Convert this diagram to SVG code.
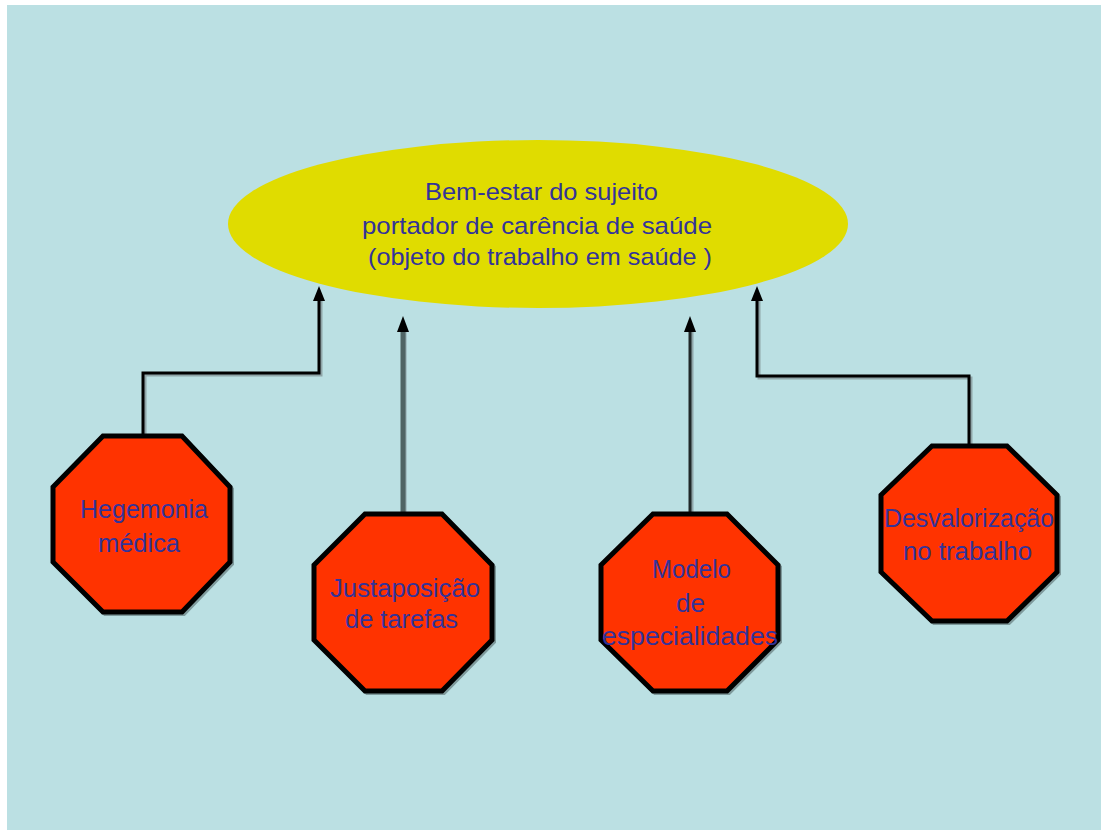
<svg xmlns="http://www.w3.org/2000/svg" width="1101" height="830" viewBox="0 0 1101 830">
<defs>
<style>
.oct{fill:#FF3300;stroke:#000;stroke-width:5;stroke-linejoin:miter}
.octsh{fill:none;stroke:#7F9A9C;stroke-width:4}
.lbl{font-family:"Liberation Sans",Arial,sans-serif;font-size:26px;fill:#333399}
.elbl{font-family:"Liberation Sans",Arial,sans-serif;font-size:24px;fill:#333399}
.conn{fill:none;stroke:#000;stroke-width:3}
.connsh{fill:none;stroke:#8FA5A8;stroke-width:3}
</style>
</defs>
<rect x="0" y="0" width="1101" height="830" fill="#FFFFFF"/>
<rect x="7" y="5" width="1094" height="825" fill="#BBE0E3"/>

<g id="connectors">
<path class="connsh" d="M145,436 V375 H321 V300"/>
<path class="conn" d="M143,436 V373 H319 V295"/>
<path d="M313,301 L319,286 L325,301 Z" fill="#000"/>
<path class="connsh" d="M405,513 V330"/>
<path fill="none" stroke="#4F6464" stroke-width="5" d="M403,513 V325"/>
<path d="M397,332 L403,316 L409,332 Z" fill="#000"/>
<path class="connsh" d="M692,513 V330"/>
<path fill="none" stroke="#202828" stroke-width="3" d="M690,513 V325"/>
<path d="M684,332 L690,316 L696,332 Z" fill="#000"/>
<path class="connsh" d="M971,445 V378 H759 V300"/>
<path class="conn" d="M969,445 V376 H757 V295"/>
<path d="M751,301 L757,286 L763,301 Z" fill="#000"/>
</g>

<g id="ellipse-node">
<ellipse cx="538" cy="224" rx="310" ry="84" fill="#E0DC00"/>
<text class="elbl" x="425" y="200" textLength="233" lengthAdjust="spacingAndGlyphs">Bem-estar do sujeito</text>
<text class="elbl" x="362" y="234" textLength="350" lengthAdjust="spacingAndGlyphs">portador de carência de saúde</text>
<text class="elbl" x="368" y="265" textLength="344" lengthAdjust="spacingAndGlyphs">(objeto do trabalho em saúde )</text>
</g>

<g id="node-hegemonia">
<polygon class="octsh" transform="translate(2,2)" points="103,436 182,436 230,487 230,562 182,612 103,612 53,562 53,487"/>
<polygon class="oct" points="103,436 182,436 230,487 230,562 182,612 103,612 53,562 53,487"/>
<text class="lbl" x="80" y="518" textLength="128" lengthAdjust="spacingAndGlyphs">Hegemonia</text>
<text class="lbl" x="98" y="552" textLength="82" lengthAdjust="spacingAndGlyphs">médica</text>
</g>

<g id="node-justaposicao">
<polygon class="octsh" transform="translate(2,2)" points="365,514 442,514 492,565 492,640 442,691 365,691 314,640 314,565"/>
<polygon class="oct" points="365,514 442,514 492,565 492,640 442,691 365,691 314,640 314,565"/>
<text class="lbl" x="330" y="597" textLength="150" lengthAdjust="spacingAndGlyphs">Justaposição</text>
<text class="lbl" x="345" y="628" textLength="113" lengthAdjust="spacingAndGlyphs">de tarefas</text>
</g>

<g id="node-modelo">
<polygon class="octsh" transform="translate(2,2)" points="653,514 727,514 778,565 778,640 727,691 653,691 601,640 601,565"/>
<polygon class="oct" points="653,514 727,514 778,565 778,640 727,691 653,691 601,640 601,565"/>
<text class="lbl" x="652" y="578" textLength="79" lengthAdjust="spacingAndGlyphs">Modelo</text>
<text class="lbl" x="676" y="612" textLength="29" lengthAdjust="spacingAndGlyphs">de</text>
<text class="lbl" x="602" y="645" textLength="176" lengthAdjust="spacingAndGlyphs">especialidades</text>
</g>

<g id="node-desvalorizacao">
<polygon class="octsh" transform="translate(2,2)" points="932,446 1007,446 1057,495 1057,572 1007,621 932,621 881,572 881,495"/>
<polygon class="oct" points="932,446 1007,446 1057,495 1057,572 1007,621 932,621 881,572 881,495"/>
<text class="lbl" x="884" y="527" textLength="170" lengthAdjust="spacingAndGlyphs">Desvalorização</text>
<text class="lbl" x="903" y="560" textLength="129" lengthAdjust="spacingAndGlyphs">no trabalho</text>
</g>
</svg>
